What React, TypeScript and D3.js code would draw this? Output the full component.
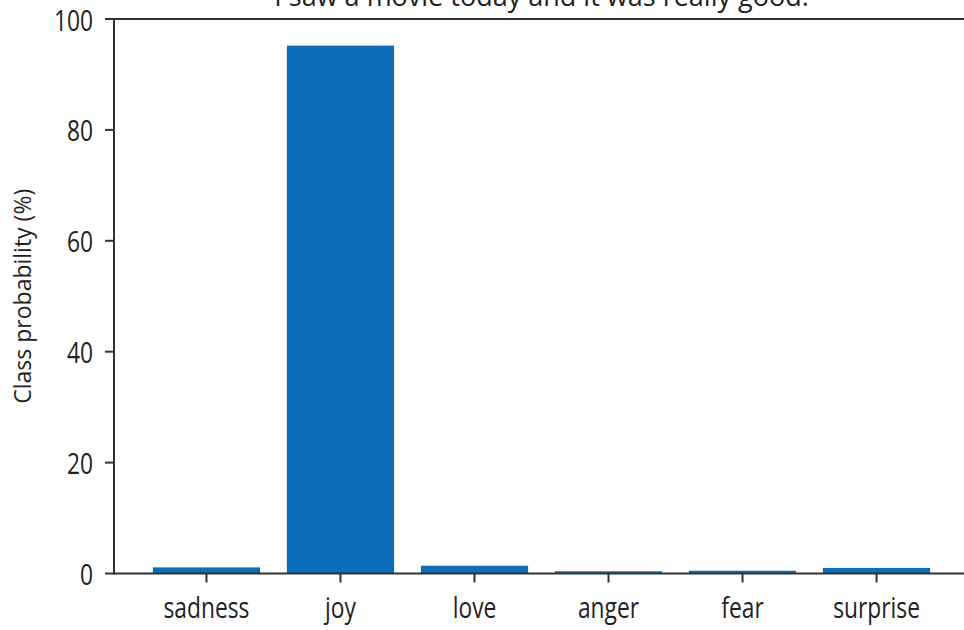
import React from "react";
import * as d3 from "d3";

const categories = ["sadness", "joy", "love", "anger", "fear", "surprise"];
const probabilities = [1.1, 95.2, 1.4, 0.4, 0.5, 1.0];
const yTicks = [0, 20, 40, 60, 80, 100];
const title = "I saw a movie today and it was really good.";
const yLabel = "Class probability (%)";

const W = 964;
const H = 630;
const left = 114;
const right = 969;
const top = 19;
const bottom = 573.5;
const FONT = "'Open Sans', 'DejaVu Sans', sans-serif";
const SX = 0.76;
const BAR = "#0b6cb8";
const AXIS = "#333333";

export default function App() {
  const x = d3
    .scaleBand<string>()
    .domain(categories)
    .range([left, right])
    .paddingInner(0.2)
    .paddingOuter(0.29);
  const y = d3.scaleLinear().domain([0, 100]).range([bottom, top]);
  const bw = x.bandwidth();

  return (
    <svg
      width={W}
      height={H}
      style={{ position: "absolute", left: 0, top: 0, background: "#fff" }}
      fontFamily={FONT}
    >
      <rect x={0} y={0} width={W} height={H} fill="#fff" />
      {categories.map((c, i) => (
        <rect
          key={c}
          x={x(c)!}
          y={y(probabilities[i])}
          width={bw}
          height={y(0) - y(probabilities[i])}
          fill={BAR}
        />
      ))}
      <line x1={left} x2={right} y1={top} y2={top} stroke={AXIS} strokeWidth={2} />
      <line x1={left} x2={right} y1={bottom} y2={bottom} stroke={AXIS} strokeWidth={2} />
      <line x1={left} x2={left} y1={top - 1} y2={bottom + 1} stroke={AXIS} strokeWidth={2} />
      {yTicks.map((t) => (
        <g key={t}>
          <line x1={left - 9} x2={left} y1={y(t)} y2={y(t)} stroke={AXIS} strokeWidth={2} />
          <text
            transform={`translate(${left - 21},${y(t) + 11.5}) scale(${SX},1)`}
            textAnchor="end"
            fontSize={30}
            fill="#222"
          >
            {t}
          </text>
        </g>
      ))}
      {categories.map((c) => {
        const cx = x(c)! + bw / 2;
        return (
          <g key={c}>
            <line x1={cx} x2={cx} y1={bottom} y2={bottom + 9} stroke={AXIS} strokeWidth={2} />
            <text
              transform={`translate(${cx},618) scale(${SX},1)`}
              textAnchor="middle"
              fontSize={30}
              fill="#222"
            >
              {c}
            </text>
          </g>
        );
      })}
      <text
        transform={`translate(31,${(top + bottom) / 2}) rotate(-90)`}
        textAnchor="middle"
        fontSize={23}
        fill="#222"
      >
        {yLabel}
      </text>
      <text
        transform={`translate(${(left + right) / 2},5.5)`}
        textAnchor="middle"
        fontSize={27}
        fill="#222"
      >
        {title}
      </text>
    </svg>
  );
}
